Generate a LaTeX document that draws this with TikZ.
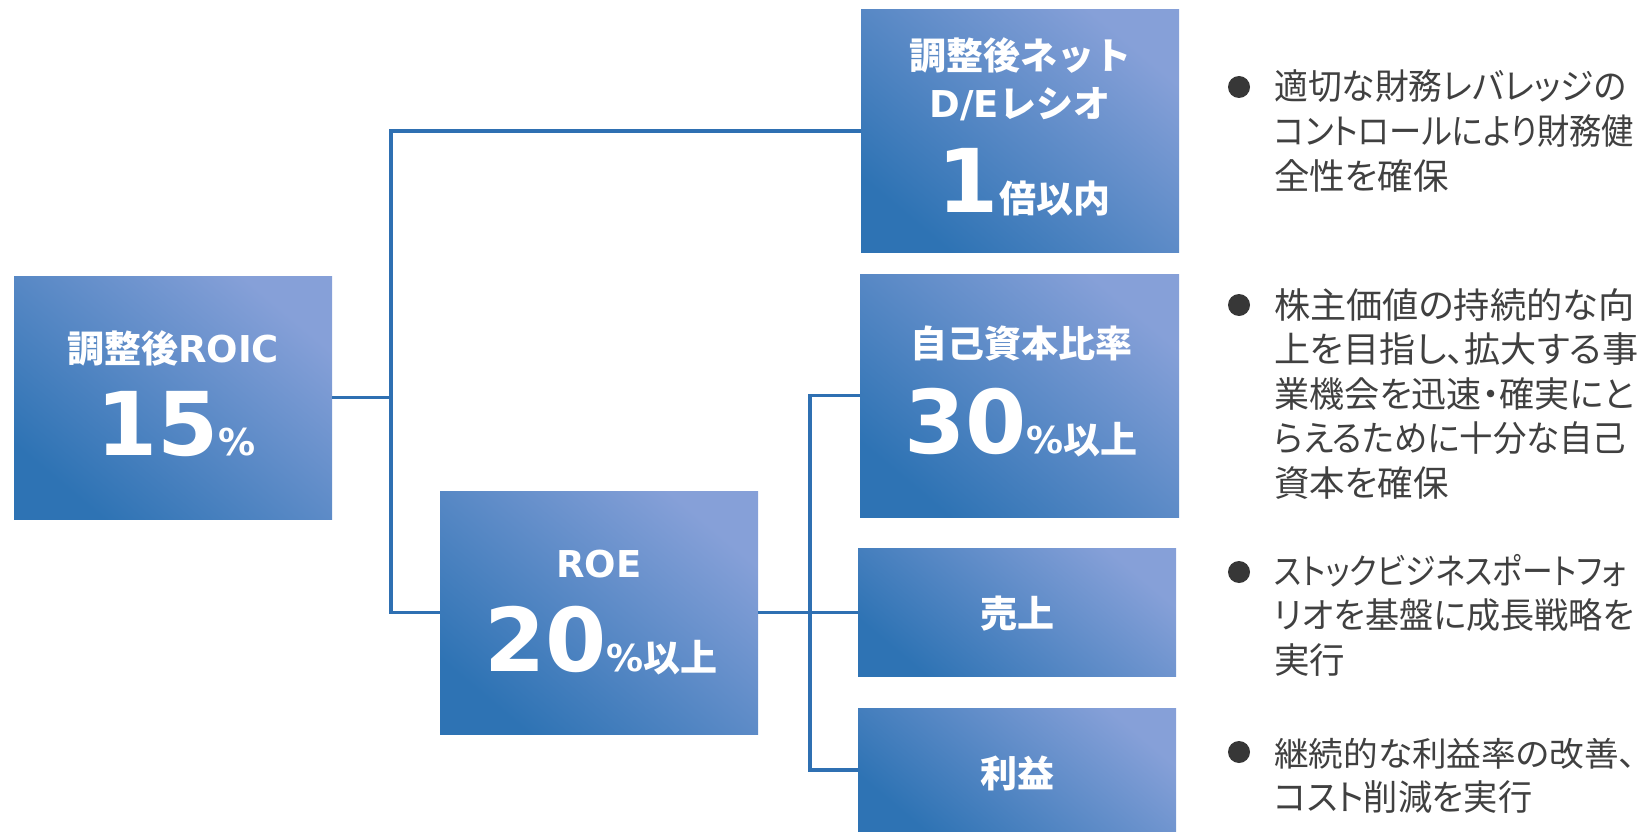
\documentclass[tikz,border=0pt]{standalone}
\usepackage{fontspec}
\usepackage{graphicx}
\newfontfamily\jp{Noto Sans CJK JP}
\newfontfamily\jpt{Noto Sans CJK JP}[RawFeature=+palt]
\newfontfamily\lat{DejaVu Sans}
\newcommand\fsz[1]{\fontsize{#1}{#1}\selectfont}
\newcommand\fitln[2]{\resizebox{#1}{\height}{#2}}
\definecolor{boxdark}{RGB}{46,115,180}
\definecolor{boxlight}{RGB}{134,160,216}
\definecolor{lineblue}{RGB}{47,112,178}
\definecolor{txtgray}{RGB}{64,64,64}
\definecolor{dotgray}{RGB}{55,55,55}
\begin{document}
\begin{tikzpicture}[x=1pt,y=-1pt,
  box/.style={rectangle, inner sep=0pt, outer sep=0pt, draw=none,
    top color=boxlight, bottom color=boxdark, shading angle=-40},
  conn/.style={draw=lineblue, line width=3.5pt},
  lbl/.style={inner sep=0pt, anchor=base, text=white, font=\bfseries},
  item/.style={inner sep=0pt, anchor=base west, align=left, text=txtgray,
    font=\jpt\fontsize{35.5}{44.5}\selectfont},
  dot/.style={circle, fill=dotgray, inner sep=0pt, minimum size=22pt}
]
\useasboundingbox (0,0) rectangle (1649,832);

% boxes
\node[box, minimum width=318pt, minimum height=243pt] (roic)   at (173,397.5)  {};
\node[box, minimum width=318pt, minimum height=242pt] (de)     at (1020,131)   {};
\node[box, minimum width=318pt, minimum height=243pt] (roe)    at (599,612.5)  {};
\node[box, minimum width=319pt, minimum height=243pt] (ke)     at (1019.5,395.5) {};
\node[box, minimum width=318pt, minimum height=128pt] (uriage) at (1017,612.5) {};
\node[box, minimum width=318pt, minimum height=124pt] (rieki)  at (1017,770)   {};

% connectors
\coordinate (busA) at (391,397.5);
\coordinate (busB) at (810,612.5);
\draw[conn] (roic.east) -- (busA);
\draw[conn] (de.west) -| (busA) |- (roe.west);
\draw[conn] (roe.east) -- (uriage.west);
\draw[conn] (ke.west) -| (busB) |- (rieki.west);

% box texts
\node[lbl] (roicA) at (173,362) {\fsz{37}{\jp 調整後}{\lat ROIC}};
\node[lbl] (roicB) at (176,455) {{\lat\fsz{88}15}{\lat\fsz{37}\%}};
\node[lbl] (deA) at (1020,70) {\fsz{37}\jp 調整後ネット};
\node[lbl] (deB) at (1020,118) {\fsz{37}{\lat D/E}{\jp レシオ}};
\node[lbl] (deC) at (1024,212) {{\lat\fsz{88}1}{\jp\fsz{37}倍以内}};
\node[lbl] (roeA) at (599,577) {\fsz{37}\lat ROE};
\node[lbl] (roeB) at (601,671) {{\lat\fsz{88}20}{\lat\fsz{37}\%}{\jp\fsz{37}以上}};
\node[lbl] (keA) at (1021,357) {\fsz{37}\jp 自己資本比率};
\node[lbl] (keB) at (1021,453) {{\lat\fsz{88}30}{\lat\fsz{37}\%}{\jp\fsz{37}以上}};
\node[lbl] (uriA) at (1017,627) {\fsz{37}\jp 売上};
\node[lbl] (riA) at (1017,787) {\fsz{37}\jp 利益};

% bullets
\node[dot] (d1) at (1239,87) {};
\node[dot] (d2) at (1239,305) {};
\node[dot] (d3) at (1239,572) {};
\node[dot] (d4) at (1239,752) {};

\node[item] (i1) at (1274,189) {\fitln{352pt}{適切な財務レバレッジの}\\
  \fitln{360pt}{コントロールにより財務健}\\
  全性を確保};
\node[item] (i2) at (1274,496) {\fitln{360pt}{株主価値の持続的な向}\\
  \fitln{364pt}{上を目指し、拡大する事}\\
  \fitln{360pt}{業機会を迅速・確実にと}\\
  \fitln{352pt}{らえるために十分な自己}\\
  資本を確保};
\node[item] (i3) at (1274,673) {\fitln{352pt}{ストックビジネスポートフォ}\\
  \fitln{360pt}{リオを基盤に成長戦略を}\\
  実行};
\node[item] (i4) at (1274,810.5) {{\fontsize{33.5}{44.5}\selectfont\fitln{362pt}{継続的な利益率の改善、}}\\
  \fitln{258pt}{コスト削減を実行}};
\end{tikzpicture}
\end{document}
